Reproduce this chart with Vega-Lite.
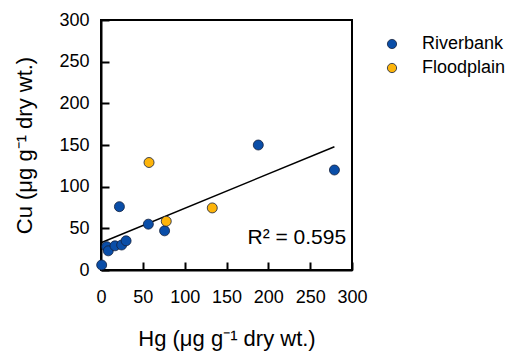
{
  "$schema": "https://vega.github.io/schema/vega-lite/v6.json",
  "width": 251,
  "height": 250,
  "autosize": {"type": "none"},
  "padding": {"left": 101, "top": 20, "right": 162, "bottom": 84},
  "background": "white",
  "config": {
    "font": "Liberation Sans",
    "view": {"stroke": "black", "strokeWidth": 2},
    "axis": {
      "grid": false,
      "domainColor": "black",
      "domainWidth": 2,
      "tickColor": "black",
      "tickWidth": 2,
      "tickSize": -8,
      "labelFont": "Liberation Sans",
      "labelFontSize": 18,
      "labelColor": "black",
      "labelOverlap": false,
      "labelFlush": false,
      "titleFont": "Liberation Sans",
      "titleFontSize": 22,
      "titleFontWeight": "normal",
      "titleColor": "black"
    },
    "legend": {
      "labelFont": "Liberation Sans",
      "labelFontSize": 18,
      "labelColor": "black"
    }
  },
  "data": {
    "values": [
      {"Hg": 0.8, "Cu": 6, "Site": "Riverbank"},
      {"Hg": 6.8, "Cu": 28, "Site": "Riverbank"},
      {"Hg": 8.7, "Cu": 23, "Site": "Riverbank"},
      {"Hg": 16.7, "Cu": 29, "Site": "Riverbank"},
      {"Hg": 24.7, "Cu": 30, "Site": "Riverbank"},
      {"Hg": 30, "Cu": 35, "Site": "Riverbank"},
      {"Hg": 22, "Cu": 76, "Site": "Riverbank"},
      {"Hg": 56.6, "Cu": 55, "Site": "Riverbank"},
      {"Hg": 76, "Cu": 47, "Site": "Riverbank"},
      {"Hg": 188, "Cu": 150, "Site": "Riverbank"},
      {"Hg": 279, "Cu": 120, "Site": "Riverbank"},
      {"Hg": 57.4, "Cu": 129, "Site": "Floodplain"},
      {"Hg": 78, "Cu": 58.5, "Site": "Floodplain"},
      {"Hg": 133, "Cu": 74.5, "Site": "Floodplain"}
    ]
  },
  "layer": [
    {
      "transform": [{"regression": "Cu", "on": "Hg", "extent": [0, 279]}],
      "mark": {"type": "line", "color": "black", "strokeWidth": 1.5},
      "encoding": {
        "x": {"field": "Hg", "type": "quantitative"},
        "y": {"field": "Cu", "type": "quantitative"}
      }
    },
    {
      "mark": {"type": "circle", "size": 100, "opacity": 1, "stroke": "#14213d", "strokeWidth": 0.8},
      "encoding": {
        "x": {
          "field": "Hg",
          "type": "quantitative",
          "scale": {"domain": [0, 300], "nice": false},
          "axis": {"values": [0, 50, 100, 150, 200, 250, 300], "labelPadding": 26, "title": "Hg (μg g⁻¹ dry wt.)", "titlePadding": 22}
        },
        "y": {
          "field": "Cu",
          "type": "quantitative",
          "scale": {"domain": [0, 300], "nice": false},
          "axis": {"values": [0, 50, 100, 150, 200, 250, 300], "labelPadding": 20, "title": "Cu (μg g⁻¹ dry wt.)", "titlePadding": 22}
        },
        "color": {
          "field": "Site",
          "type": "nominal",
          "scale": {"domain": ["Riverbank", "Floodplain"], "range": ["#0a4ea8", "#fdb40a"]},
          "legend": {
            "title": null,
            "orient": "none",
            "legendX": 282,
            "legendY": 15,
            "padding": 0,
            "symbolType": "circle",
            "symbolSize": 85,
            "symbolStrokeColor": "#14213d",
            "symbolStrokeWidth": 0.8,
            "labelOffset": 21,
            "rowPadding": 6
          }
        }
      }
    },
    {
      "data": {"values": [{}]},
      "mark": {"type": "text", "align": "right", "baseline": "middle", "fontSize": 21, "fontWeight": "normal", "font": "Liberation Sans", "color": "black"},
      "encoding": {
        "x": {"datum": 293},
        "y": {"datum": 39},
        "text": {"value": "R² = 0.595"}
      }
    }
  ]
}
